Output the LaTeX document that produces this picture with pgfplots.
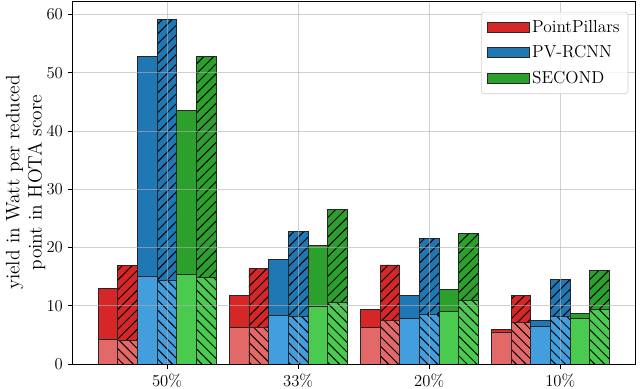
\documentclass[border=0pt]{standalone}
\usepackage{pgfplots}
\pgfplotsset{compat=1.18}
\usepackage{pgfplotstable}
\usetikzlibrary{patterns.meta}
\definecolor{ppdark}{HTML}{D62728}
\definecolor{pplight}{HTML}{E36868}
\definecolor{pvdark}{HTML}{1F77B4}
\definecolor{pvlight}{HTML}{429EDC}
\definecolor{sedark}{HTML}{2CA02C}
\definecolor{selight}{HTML}{4ACB50}
\definecolor{gridgray}{HTML}{B0B0B0}

% total height and lower (light) part for every bar
\pgfplotstableread{
x pp   ppl  pph  pphl pv   pvl  pvh  pvhl se   sel  seh  sehl
0 13.0 4.2  16.9 4.0  52.7 15.0 59.2 14.3 43.5 15.3 52.7 14.9
1 11.8 6.2  16.4 6.3  18.0 8.4  22.8 8.2  20.4 9.9  26.5 10.6
2 9.3  6.3  17.0 7.4  11.7 7.8  21.6 8.5  12.8 9.1  22.4 10.9
3 6.0  5.5  11.7 7.2  7.4  6.4  14.5 8.1  8.6  7.8  16.1 9.4
}\yielddata

\tikzset{
  up/.style={postaction={pattern={Lines[angle=45,distance=5pt,line width=0.7pt]},pattern color=black}},
  down/.style={postaction={pattern={Lines[angle=-45,distance=5pt,line width=0.7pt]},pattern color=black}},
}

\begin{document}
\begin{tikzpicture}
\useasboundingbox (-52.3pt,-17.3pt) rectangle (408.5pt,262.1pt);
\begin{axis}[
  width=404.9pt, height=261.4pt, scale only axis,
  ybar, bar width=0.15,
  xmin=-0.72, xmax=3.57, ymin=0, ymax=62.3,
  xtick={0,1,2,3}, xticklabels={50\%,33\%,20\%,10\%},
  ytick={0,10,...,60},
  tick pos=left, tick align=outside,
  major tick length=3.5pt,
  tick style={black, line width=0.6pt},
  axis line style={black, line width=0.6pt},
  grid=major, grid style={gridgray, opacity=0.6, line width=0.6pt},
  axis on top,
  tick label style={font=\fontsize{12}{14}\selectfont},
  ylabel={yield in Watt per reduced\\point in HOTA score},
  ylabel style={align=center, font=\fontsize{14}{16}\selectfont},
  ylabel shift=-6pt,
  legend image code/.code={\draw[#1, sharp corners, fill opacity=1] (0pt,-3.6pt) rectangle (30pt,3.6pt);},
  legend cell align=left,
  legend style={at={(0.988,0.970)}, anchor=north east, draw=black!20,
    rounded corners=2pt, fill=white, fill opacity=0.8, text opacity=1,
    font=\fontsize{12.5}{14}\selectfont, row sep=4pt, inner xsep=4pt, inner ysep=4pt,
    /tikz/every even column/.append style={column sep=3pt}},
  every axis plot/.append style={draw=black!85, line width=0.6pt},
]
% plain bars
\addplot[fill=ppdark, bar shift=-0.45] table[x=x,y=pp]{\yielddata};
\addlegendentry{PointPillars}
\addplot[fill=pvdark, bar shift=-0.15] table[x=x,y=pv]{\yielddata};
\addlegendentry{PV-RCNN}
\addplot[fill=sedark, bar shift=0.15] table[x=x,y=se]{\yielddata};
\addlegendentry{SECOND}
\addplot[forget plot, fill=pplight, bar shift=-0.45] table[x=x,y=ppl]{\yielddata};
\addplot[forget plot, fill=pvlight, bar shift=-0.15] table[x=x,y=pvl]{\yielddata};
\addplot[forget plot, fill=selight, bar shift=0.15] table[x=x,y=sel]{\yielddata};
% hatched bars
\addplot[forget plot, fill=ppdark, up, bar shift=-0.3] table[x=x,y=pph]{\yielddata};
\addplot[forget plot, fill=pvdark, up, bar shift=0] table[x=x,y=pvh]{\yielddata};
\addplot[forget plot, fill=sedark, up, bar shift=0.3] table[x=x,y=seh]{\yielddata};
\addplot[forget plot, fill=pplight, down, bar shift=-0.3] table[x=x,y=pphl]{\yielddata};
\addplot[forget plot, fill=pvlight, down, bar shift=0] table[x=x,y=pvhl]{\yielddata};
\addplot[forget plot, fill=selight, down, bar shift=0.3] table[x=x,y=sehl]{\yielddata};
\end{axis}
\end{tikzpicture}
\end{document}
